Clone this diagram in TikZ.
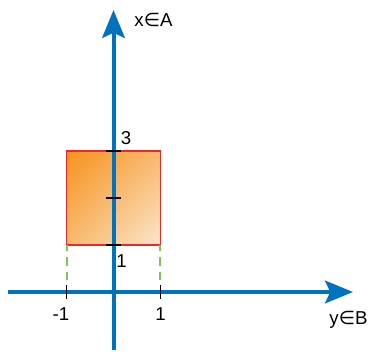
\documentclass[tikz,border=0pt]{standalone}
\usepackage{fontspec}
\setmainfont{Liberation Sans}
\newfontfamily\symfont{DejaVu Sans}
\usetikzlibrary{arrows.meta,shadings}

\definecolor{axisblue}{RGB}{0,114,190}
\definecolor{boxred}{RGB}{237,40,45}
\definecolor{dashgreen}{RGB}{125,200,80}
\definecolor{darkorange}{RGB}{247,146,30}
\definecolor{midorange}{RGB}{248,185,110}
\definecolor{lightorange}{RGB}{251,230,204}

\tikzset{
  axis/.style={line width=3pt, axisblue, -{Stealth[length=21pt,width=17pt,inset=4pt]}},
  tick/.style={line width=1.2pt, black},
  guide/.style={line width=1.5pt, dashgreen, dash pattern=on 6.5pt off 4.5pt, dash phase=2pt},
  lbl/.style={font=\fontsize{14}{16}\selectfont, anchor=base, inner sep=0pt}
}

\begin{document}
\begin{tikzpicture}[x=35.25pt, y=35.25pt]
\useasboundingbox (-2.415,-1.298) rectangle (5.479,6.213);

% Set
\shade[upper left=darkorange, lower right=lightorange,
       upper right=midorange, lower left=midorange]
(-1,1) rectangle (1,3);
\draw[boxred, line width=1.1pt] (-1,1) rectangle (1,3);

% Projections
\draw[guide] (-1,1) -- (-1,0.15);
\draw[guide] (1,1) -- (1,0.15);

% Axes
\draw[axis] (-2.245,0) -- (5.096,0);
\draw[axis] (0,-1.23) -- (0,6.0);

% Ticks
\foreach \k in {1,2,3}
  \draw[tick] (-0.15,\k) -- (0.15,\k);
\foreach \k in {-1,1}
  \draw[tick] (\k,-0.14) -- (\k,0.14);

\node[lbl] (xlab) at (0.85,5.64) {x{\symfont∈}A};
\node[lbl] (ylab) at (5.0,-0.70) {y{\symfont∈}B};
\node[lbl] (xthree) at (0.266,3.13) {3};
\node[lbl] (xone) at (0.17,0.53) {1};
\node[lbl] (yminus) at (-1.117,-0.61) {-1};
\node[lbl] (yone) at (1.0,-0.61) {1};

\end{tikzpicture}
\end{document}
